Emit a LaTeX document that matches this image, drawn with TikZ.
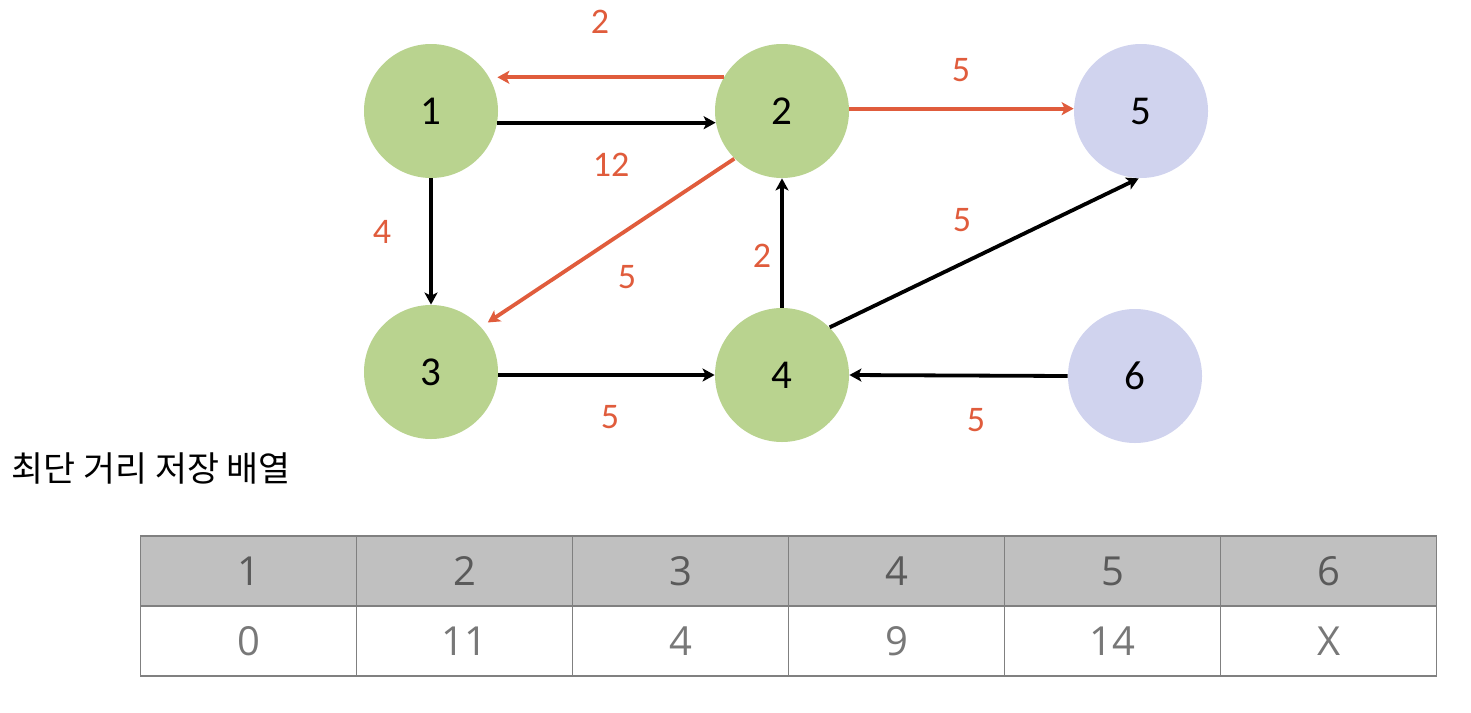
\documentclass[tikz,border=0pt]{standalone}
\usepackage{fontspec}
\setmainfont{Carlito}
\newfontfamily\tabfont{Open Sans}
\newfontfamily\krfont{Noto Sans CJK KR}
\usetikzlibrary{arrows.meta}
\definecolor{ngreen}{RGB}{185,211,143}
\definecolor{nblue}{RGB}{208,211,238}
\definecolor{ered}{RGB}{224,92,60}
\definecolor{hdrgray}{RGB}{192,192,192}
\definecolor{bordergray}{RGB}{128,128,128}
\definecolor{hdrtext}{RGB}{90,90,90}
\definecolor{celltext}{RGB}{120,120,120}
\tikzset{
  vert/.style={circle,minimum size=67pt,inner sep=0pt,font=\fontsize{20.5pt}{24pt}\selectfont},
  gvert/.style={vert,fill=ngreen},
  bvert/.style={vert,fill=nblue},
  edgeb/.style={line width=1.9pt,black,-{Stealth[length=6pt,width=6.5pt,inset=1.5pt]}},
  edger/.style={line width=1.9pt,ered,-{Stealth[length=6pt,width=6.5pt,inset=1.5pt]}},
  wlabel/.style={text=ered,font=\fontsize{18pt}{22pt}\selectfont,inner sep=0pt},
  hcell/.style={draw=bordergray,line width=0.7pt,fill=hdrgray,minimum width=108pt,minimum height=35pt,inner sep=0pt,text=hdrtext,font=\tabfont\fontsize{20pt}{24pt}\selectfont},
  dcell/.style={draw=bordergray,line width=0.7pt,fill=white,minimum width=108pt,minimum height=35pt,inner sep=0pt,text=celltext,font=\tabfont\fontsize{20pt}{24pt}\selectfont}
}
\begin{document}
\begin{tikzpicture}[x=0.5pt,y=-0.5pt]
\useasboundingbox (0,0) rectangle (1471,712);
% vertices
\node[gvert] (n1) at (431,111) {1};
\node[gvert] (n2) at (782,111) {2};
\node[bvert] (n5) at (1141,111) {5};
\node[gvert] (n3) at (431,372) {3};
\node[gvert] (n4) at (782,375) {4};
\node[bvert] (n6) at (1135,376) {6};
% edges
\draw[edger,shorten >=4pt] (n2.150) -- (n1.30);
\draw[edgeb] (n1.-10) -- (n2.190);
\draw[edger] (n2.2) -- (n5.178);
\draw[edgeb] (n1.south) -- (n3.north);
\draw[edger,shorten >=4pt] (n2.225) -- (n3.42);
\draw[edgeb] (n4.north) -- (n2.south);
\draw[edgeb] (n4.45) -- (n5.268);
\draw[edgeb] (n3.east |- n4.west) -- (n4.west);
\draw[edgeb] (n6.west) -- (n4.east);
% weights
\node[wlabel] (w21) at (600,22) {2};
\node[wlabel] (w12) at (611,165) {12};
\node[wlabel] (w25) at (961,70) {5};
\node[wlabel] (w13) at (382,232) {4};
\node[wlabel] (w23) at (627,277) {5};
\node[wlabel] (w42) at (762,256) {2};
\node[wlabel] (w45) at (962,220) {5};
\node[wlabel] (w34) at (610,417) {5};
\node[wlabel] (w64) at (976,420) {5};
% title
\node[anchor=west,inner sep=0pt,font=\krfont\fontsize{17.4pt}{20pt}\selectfont] (title) at (11,468) {최단 거리 저장 배열};
% table
\foreach \i/\h/\d in {1/1/0,2/2/11,3/3/4,4/4/9,5/5/14,6/6/X}{
  \node[hcell] (h\i) at ({140.7+216*(\i-0.5)},571) {\h};
  \node[dcell] (d\i) at ({140.7+216*(\i-0.5)},641) {\d};
}
\end{tikzpicture}
\end{document}
